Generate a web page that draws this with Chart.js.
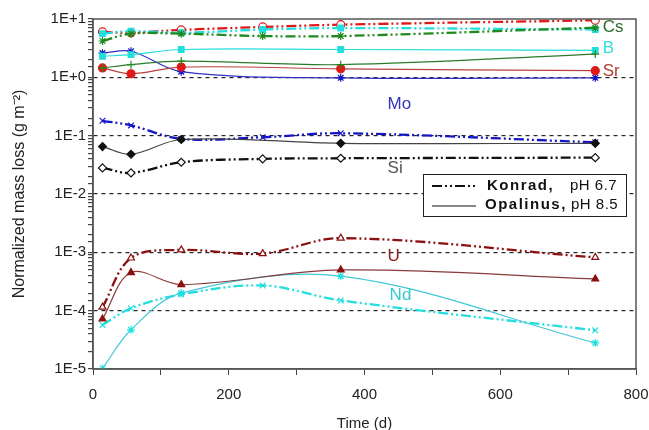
<!DOCTYPE html>
<html>
<head>
<meta charset="utf-8">
<script src="https://cdn.jsdelivr.net/npm/chart.js@4.4.1/dist/chart.umd.min.js"></script>
<style>
  html, body { margin: 0; padding: 0; background: #fff; }
  #wrap { width: 649px; height: 430px; }
</style>
</head>
<body>
<div id="wrap"><canvas id="massChart" width="649" height="430"></canvas></div>
<script>
// sampling times (days)
const daysKonrad = [14, 56, 130, 250, 365, 740];
const daysOpalinus = [14, 56, 130, 365, 740];

// Konrad, pH 6.7 (dash-dot lines)
const csKonrad = [4.2, 5.6, 5.6, 5.1, 5.1, 7.1];
const bKonrad = [5.6, 6.2, 5.8, 6.6, 7.0, 6.6];
const srKonrad = [6.0, 5.8, 6.5, 7.3, 8.0, 9.5];
const moKonrad = [0.18, 0.15, 0.088, 0.094, 0.11, 0.077];
const siKonrad = [0.028, 0.023, 0.035, 0.040, 0.041, 0.042];
const uKonrad = [1.15e-4, 8.0e-4, 1.1e-3, 9.5e-4, 1.75e-3, 8.2e-4];
const ndKonrad = [5.7e-5, 1.1e-4, 1.9e-4, 2.7e-4, 1.5e-4, 4.6e-5];

// Opalinus, pH 8.5 (solid lines)
const csOpalinus = [1.45, 1.65, 1.9, 1.65, 2.5];
const bOpalinus = [2.3, 2.45, 3.0, 3.0, 2.9];
const srOpalinus = [1.45, 1.15, 1.5, 1.4, 1.3];
const moOpalinus = [2.6, 2.8, 1.25, 0.98, 0.98];
const siOpalinus = [0.065, 0.048, 0.086, 0.074, 0.074];
const uOpalinus = [7.2e-5, 4.5e-4, 2.8e-4, 5.0e-4, 3.5e-4];
const ndOpalinus = [1.02e-5, 4.7e-5, 2.0e-4, 3.9e-4, 2.8e-5];

// element names written next to the curves (day, value)
const elementNames = ["Cs", "B", "Sr", "Mo", "Si", "U", "Nd"];
const elementDays = [751, 751, 751, 434, 434, 434, 437];
const elementValues = [7.1, 3.1, 1.26, 0.34, 0.028, 8.7e-4, 1.86e-4];
const elementColors = ["#2e6b2e", "#33dddd", "#b03a2e", "#3333bb", "#555555", "#8b1a1a", "#33cccc"];

const GREEN = "#1f8a1f";
const CYAN = "#22dede";
const RED = "#e01818";
const BLUE = "#1414c8";
const BLACK = "#111111";
const DARKRED = "#8b1010";

function konrad(label, values, color, style, fill) {
  return {
    label: label,
    data: daysKonrad.map((d, i) => ({ x: d, y: values[i] })),
    borderColor: color,
    backgroundColor: fill || "#ffffff",
    pointBorderColor: color,
    borderWidth: 2.3,
    borderDash: [10, 3, 2, 3, 2, 3],
    pointStyle: style,
    pointRadius: 4,
    pointBorderWidth: 1.2,
    tension: 0.35,
    fill: false
  };
}

function opalinus(label, values, color, style, markerColor) {
  return {
    label: label,
    data: daysOpalinus.map((d, i) => ({ x: d, y: values[i] })),
    borderColor: color,
    backgroundColor: markerColor || color,
    pointBorderColor: markerColor || color,
    borderWidth: 1.2,
    pointStyle: style,
    pointRadius: 4,
    pointBorderWidth: 1.2,
    tension: 0.35,
    fill: false
  };
}

const datasets = [
  opalinus("Cs Opalinus", csOpalinus, "#2a7a2a", "cross", GREEN),
  opalinus("B Opalinus", bOpalinus, CYAN, "rect"),
  opalinus("Sr Opalinus", srOpalinus, "#b84040", "circle", RED),
  opalinus("Mo Opalinus", moOpalinus, "#3030c0", "star", BLUE),
  opalinus("Si Opalinus", siOpalinus, "#444444", "rectRot", BLACK),
  opalinus("U Opalinus", uOpalinus, "#8b3a3a", "triangle", DARKRED),
  opalinus("Nd Opalinus", ndOpalinus, "#40c8d8", "star", CYAN),
  konrad("Cs Konrad", csKonrad, GREEN, "star"),
  konrad("B Konrad", bKonrad, CYAN, "rect", CYAN),
  konrad("Sr Konrad", srKonrad, RED, "circle"),
  konrad("Mo Konrad", moKonrad, BLUE, "crossRot"),
  konrad("Si Konrad", siKonrad, BLACK, "rectRot"),
  konrad("U Konrad", uKonrad, DARKRED, "triangle"),
  konrad("Nd Konrad", ndKonrad, CYAN, "crossRot")
];

function isDecade(v) {
  const l = Math.log10(v);
  return Math.abs(l - Math.round(l)) < 1e-9;
}

// frame, element names and the two-line legend
const decorations = {
  id: "decorations",
  afterDraw(chart) {
    const ctx = chart.ctx;
    const area = chart.chartArea;
    const xs = chart.scales.x;
    const ys = chart.scales.y;
    ctx.save();
    ctx.strokeStyle = "#555";
    ctx.lineWidth = 1.5;
    ctx.strokeRect(area.left, area.top, area.right - area.left, area.bottom - area.top);

    ctx.font = "17px 'Liberation Sans', Arial, sans-serif";
    ctx.textBaseline = "middle";
    ctx.textAlign = "left";
    elementNames.forEach((name, i) => {
      ctx.fillStyle = elementColors[i];
      ctx.fillText(name, xs.getPixelForValue(elementDays[i]), ys.getPixelForValue(elementValues[i]));
    });

    // legend box
    const lx = area.right - 213;
    const ly = area.top + 155;
    ctx.fillStyle = "#fff";
    ctx.fillRect(lx, ly, 203, 42);
    ctx.strokeStyle = "#222";
    ctx.lineWidth = 1;
    ctx.strokeRect(lx + 0.5, ly + 0.5, 203, 42);

    ctx.strokeStyle = "#111";
    ctx.lineWidth = 1.8;
    ctx.setLineDash([10, 3, 2, 3, 2, 3]);
    ctx.beginPath();
    ctx.moveTo(lx + 9, ly + 12);
    ctx.lineTo(lx + 53, ly + 12);
    ctx.stroke();
    ctx.setLineDash([]);
    ctx.lineWidth = 1;
    ctx.beginPath();
    ctx.moveTo(lx + 9, ly + 32);
    ctx.lineTo(lx + 53, ly + 32);
    ctx.stroke();

    ctx.fillStyle = "#111";
    ctx.letterSpacing = "1.5px";
    ctx.font = "bold 15px 'Liberation Sans', Arial, sans-serif";
    ctx.fillText("Konrad,", lx + 64, ly + 12);
    ctx.fillText("Opalinus,", lx + 62, ly + 31);
    ctx.letterSpacing = "0.5px";
    ctx.font = "15px 'Liberation Sans', Arial, sans-serif";
    ctx.fillText("pH 6.7", lx + 147, ly + 12);
    ctx.fillText("pH 8.5", lx + 148, ly + 31);
    ctx.restore();
  }
};

const FONT = { family: "'Liberation Sans', Arial, sans-serif", size: 15 };

new Chart(document.getElementById("massChart").getContext("2d"), {
  type: "line",
  data: { datasets: datasets },
  options: {
    responsive: false,
    animation: false,
    layout: { padding: { left: 0, right: 13, top: 19, bottom: 0 } },
    plugins: {
      legend: { display: false },
      tooltip: { enabled: false }
    },
    scales: {
      x: {
        type: "linear",
        min: 0,
        max: 800,
        ticks: {
          stepSize: 100,
          autoSkip: false,
          maxRotation: 0,
          padding: 11,
          color: "#222",
          font: FONT,
          callback: v => (v % 200 === 0 ? v : "")
        },
        grid: { drawOnChartArea: false, tickLength: 6, color: "#444" },
        border: { color: "#555", width: 1.5 },
        title: { display: true, text: "Time (d)", color: "#222", font: FONT, padding: { top: 0, bottom: -3 } },
        afterFit: scale => {
          scale.height = 61;
          scale.paddingLeft = 0;
          scale.paddingRight = 0;
        }
      },
      y: {
        type: "logarithmic",
        min: 1e-5,
        max: 10,
        ticks: {
          autoSkip: false,
          padding: 2,
          color: "#222",
          font: FONT,
          callback: v => {
            if (!isDecade(v)) return "";
            const e = Math.round(Math.log10(v));
            return "1E" + (e >= 0 ? "+" : "-") + Math.abs(e);
          }
        },
        grid: {
          tickLength: 5,
          tickColor: "#444",
          color: c => {
            const v = c.tick && c.tick.value;
            if (!v || !isDecade(v) || v >= 10 || v <= 1e-5) return "transparent";
            return "#222";
          },
          lineWidth: 1.2
        },
        border: { color: "#555", width: 1.5, dash: [4, 4] },
        title: {
          display: true,
          text: "Normalized mass loss (g m\u207B\u00B2)",
          color: "#222",
          font: { family: "'Liberation Sans', Arial, sans-serif", size: 16 },
          padding: { top: 10, bottom: 0 }
        },
        afterFit: scale => {
          scale.width = 93;
          scale.paddingTop = 0;
          scale.paddingBottom = 0;
        }
      }
    }
  },
  plugins: [decorations]
});
</script>
</body>
</html>
